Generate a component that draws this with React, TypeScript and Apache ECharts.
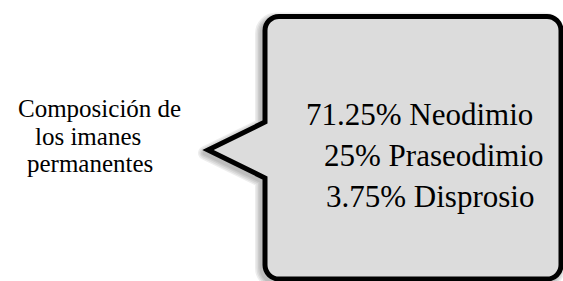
import React, { useEffect, useRef } from "react";
import * as echarts from "echarts";

const labelLines: string[] = ["Composición de", "los imanes", "permanentes"];
const compositionLines: string[] = ["71.25% Neodimio", "25% Praseodimio", "3.75% Disprosio"];

// layout (not data)
const labelX = [18, 35, 27];
const labelY0 = 108.5;
const labelStep = 27.5;
const compX = [306, 324, 326];
const compY0 = 114;
const compStep = 41;

const L = 265, T = 16.5, R = 561, B = 279, r = 14;
const calloutD =
  `M ${L + r} ${T} L ${R - r} ${T} A ${r} ${r} 0 0 1 ${R} ${T + r} ` +
  `L ${R} ${B - r} A ${r} ${r} 0 0 1 ${R - r} ${B} L ${L + r} ${B} ` +
  `A ${r} ${r} 0 0 1 ${L} ${B - r} L ${L} 178 L 208 150 L ${L} 122 ` +
  `L ${L} ${T + r} A ${r} ${r} 0 0 1 ${L + r} ${T} Z`;

let registered = false;

export default function App() {
  const ref = useRef<HTMLDivElement>(null);
  useEffect(() => {
    if (!ref.current) return;
    if (!registered) {
      echarts.graphic.registerShape("callout", echarts.graphic.extendPath(calloutD, {}));
      registered = true;
    }
    const chart = echarts.init(ref.current, null, { renderer: "svg" });
    const elements: any[] = [];
    // soft shadow approximation
    [14, 11, 8, 5].forEach((w) => {
      elements.push({
        type: "callout",
        x: -3,
        y: 3,
        silent: true,
        style: { fill: "none", stroke: "rgba(0,0,0,0.07)", lineWidth: w, lineJoin: "round" },
      });
    });
    elements.push({
      type: "callout",
      x: 0,
      y: 0,
      style: { fill: "#dcdcdc", stroke: "#000", lineWidth: 5, lineJoin: "miter" },
    });
    labelLines.forEach((t, i) => {
      elements.push({
        type: "text",
        x: labelX[i],
        y: labelY0 + i * labelStep,
        style: { text: t, fill: "#000", fontSize: 25, fontFamily: "Liberation Serif", align: "left", verticalAlign: "middle" },
      });
    });
    compositionLines.forEach((t, i) => {
      elements.push({
        type: "text",
        x: compX[i],
        y: compY0 + i * compStep,
        style: { text: t, fill: "#000", fontSize: 31, fontFamily: "Liberation Serif", align: "left", verticalAlign: "middle" },
      });
    });
    chart.setOption({ animation: false, graphic: { elements } });
    return () => chart.dispose();
  }, []);
  return (
    <div
      ref={ref}
      style={{ position: "fixed", left: 0, top: 0, width: 563, height: 281, background: "#fff" }}
    />
  );
}
